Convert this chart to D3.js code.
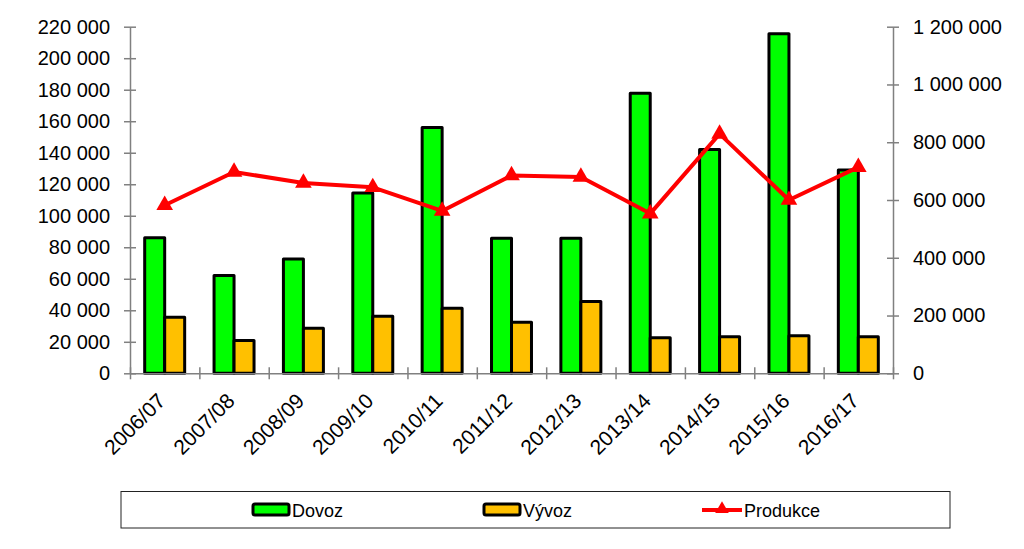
<!DOCTYPE html>
<html><head><meta charset="utf-8">
<script src="https://cdn.jsdelivr.net/npm/d3@7"></script>
<style>
html,body{margin:0;padding:0;background:#fff;}
svg{display:block;font-family:"Liberation Sans",Arial,sans-serif;}
</style></head>
<body><svg id="c" width="1024" height="549"></svg>
<script>
const categories = ["2006/07","2007/08","2008/09","2009/10","2010/11","2011/12","2012/13","2013/14","2014/15","2015/16","2016/17"];
const dovoz   = [86000, 62000, 72500, 114500, 156000, 85800, 85800, 177700, 142000, 215500, 129000];
const vyvoz   = [35500, 20800, 28600, 36200, 41300, 32400, 45500, 22600, 23200, 23800, 23200];
const produkce= [582000, 697000, 659000, 644000, 562000, 685000, 680000, 553000, 829000, 600000, 714000];
const leftTicks  = [0,20000,40000,60000,80000,100000,120000,140000,160000,180000,200000,220000];
const rightTicks = [0,200000,400000,600000,800000,1000000,1200000];
const seriesNames = ["Dovoz","Vývoz","Produkce"];
const colors = {Dovoz:"#00FF00", "Vývoz":"#FFC000", Produkce:"#FF0000"};

const svg = d3.select("#c");
const L = 130, R = 893, T = 26.7, B = 373.3;
const loc = d3.formatLocale({decimal:",", thousands:" ", grouping:[3], currency:["",""]});
const fmt = loc.format(",d");

const x = d3.scaleBand().domain(categories).range([L,R]).padding(0);
const xs = d3.scaleBand().domain(["Dovoz","Vývoz"]).range([0,x.bandwidth()]).paddingInner(0).paddingOuter(0.735);
const yL = d3.scaleLinear().domain([0,220000]).range([B,T]);
const yR = d3.scaleLinear().domain([0,1200000]).range([B,T]);

// bars
const g = svg.append("g");
[["Dovoz",dovoz],["Vývoz",vyvoz]].forEach(([name,vals])=>{
  g.selectAll(null).data(vals).enter().append("rect")
    .attr("x",(d,i)=>x(categories[i])+xs(name))
    .attr("y",d=>yL(d))
    .attr("width",xs.bandwidth())
    .attr("height",d=>B-yL(d))
    .attr("fill",colors[name])
    .attr("stroke","#000").attr("stroke-width",3).attr("stroke-linejoin","round");
});

// axes
function styleAxis(sel){
  sel.selectAll(".domain").attr("stroke","#808080").attr("stroke-width",1.5);
  sel.selectAll(".tick line").attr("stroke","#808080").attr("stroke-width",1.5);
  sel.selectAll("text").attr("fill","#000").style("font-size","20px").style("font-family","'Liberation Sans',Arial,sans-serif");
}
const axL = svg.append("g").attr("transform",`translate(${L},0)`)
  .call(d3.axisLeft(yL).tickValues(leftTicks).tickFormat(fmt).tickSizeInner(6).tickSizeOuter(0).tickPadding(14));
styleAxis(axL);
axL.selectAll(".tick line").attr("x1",6);
const axR = svg.append("g").attr("transform",`translate(${R},0)`)
  .call(d3.axisRight(yR).tickValues(rightTicks).tickFormat(fmt).tickSizeInner(6).tickSizeOuter(0).tickPadding(14));
styleAxis(axR);
axR.selectAll(".tick line").attr("x1",-6);

// x axis with tick marks at category boundaries
const xb = d3.scalePoint().domain(d3.range(categories.length+1)).range([L,R]);
const axX = svg.append("g").attr("transform",`translate(0,${B})`)
  .call(d3.axisBottom(xb).tickSizeInner(6).tickSizeOuter(0).tickFormat(""));
styleAxis(axX);
axX.selectAll(".tick line").attr("y1",-6);
svg.append("g").selectAll("text").data(categories).enter().append("text")
  .attr("transform",d=>`translate(${x(d)+x.bandwidth()/2+2},${B+29}) rotate(-45)`)
  .attr("text-anchor","end").style("font-size","21px").attr("fill","#000").text(d=>d);

// line
const cx = (i)=>x(categories[i])+x.bandwidth()/2;
svg.append("path").datum(produkce)
  .attr("d",d3.line().x((d,i)=>cx(i)).y(d=>yR(d)))
  .attr("fill","none").attr("stroke",colors.Produkce).attr("stroke-width",4).attr("stroke-linejoin","round");
const tri = d3.symbol().type(d3.symbolTriangle).size(120);
svg.append("g").selectAll("path").data(produkce).enter().append("path")
  .attr("d",tri).attr("transform",(d,i)=>`translate(${cx(i)},${yR(d)})`)
  .attr("fill",colors.Produkce);

// legend
const lg = svg.append("g");
lg.append("rect").attr("x",121).attr("y",491.5).attr("width",829).attr("height",36.5)
  .attr("fill","#fff").attr("stroke","#222").attr("stroke-width",1);
const legItems = [{name:"Dovoz",x:253},{name:"Vývoz",x:484},{name:"Produkce",x:702}];
legItems.forEach(it=>{
  if(it.name!=="Produkce"){
    lg.append("rect").attr("x",it.x).attr("y",504).attr("width",36).attr("height",11).attr("rx",2)
      .attr("fill",colors[it.name]).attr("stroke","#000").attr("stroke-width",3);
    lg.append("text").attr("x",it.x+39).attr("y",516.5).style("font-size","18px").text(it.name);
  } else {
    lg.append("line").attr("x1",it.x).attr("x2",it.x+40).attr("y1",510).attr("y2",510)
      .attr("stroke",colors[it.name]).attr("stroke-width",4);
    lg.append("path").attr("d",d3.symbol().type(d3.symbolTriangle).size(80))
      .attr("transform",`translate(${it.x+20},509)`).attr("fill",colors[it.name]);
    lg.append("text").attr("x",it.x+42).attr("y",516.5).style("font-size","18px").text(it.name);
  }
});
</script></body></html>
